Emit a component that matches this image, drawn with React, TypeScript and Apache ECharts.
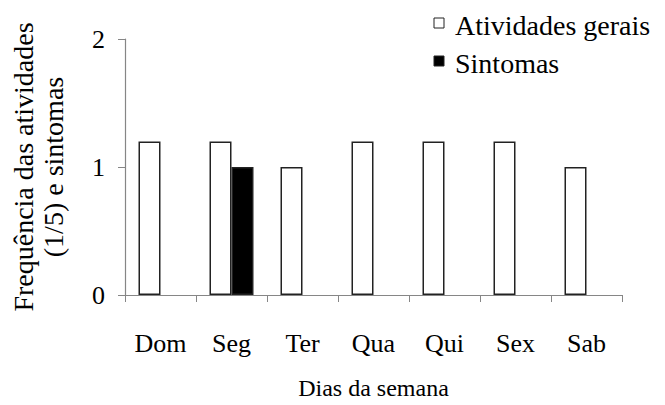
import React, { useEffect, useRef } from "react";
import * as echarts from "echarts";

const categories = ["Dom", "Seg", "Ter", "Qua", "Qui", "Sex", "Sab"];
const atividadesGerais = [1.2, 1.2, 1, 1.2, 1.2, 1.2, 1];
const sintomas = [0, 1, 0, 0, 0, 0, 0];
const seriesNames = ["Atividades gerais", "Sintomas"];
const yTicks = { min: 0, max: 2, interval: 1 };
const xTitle = "Dias da semana";
const yTitleLines = ["Frequência das atividades", "(1/5) e sintomas"];

const FONT = "Liberation Serif";
const BORDER = "#222222";
const AXIS = "#868686";

export default function App() {
  const ref = useRef<HTMLDivElement>(null);
  useEffect(() => {
    document.body.style.margin = "0";
    if (!ref.current) return;
    const chart = echarts.init(ref.current, undefined, { renderer: "svg" });
    const legendFill = ["#ffffff", "#000000"];
    const legendRowY = [23, 61];
    const legendGraphic: any[] = [];
    seriesNames.forEach((name, i) => {
      legendGraphic.push({
        type: "rect",
        shape: { x: 434, y: legendRowY[i] - 5, width: 10, height: 10 },
        style: { fill: legendFill[i], stroke: BORDER, lineWidth: 1 },
      });
      legendGraphic.push({
        type: "text",
        x: 455,
        y: legendRowY[i] + 2,
        style: {
          text: name,
          fontFamily: FONT,
          fontSize: 28,
          fill: "#000",
          align: "left",
          verticalAlign: "middle",
        },
      });
    });
    chart.setOption({
      animation: false,
      backgroundColor: "#ffffff",
      textStyle: { fontFamily: FONT },
      grid: { left: 123, right: 43, top: 39, bottom: 102 },
      graphic: legendGraphic,
      xAxis: {
        type: "category",
        data: categories,
        boundaryGap: true,
        axisLine: { lineStyle: { color: AXIS, width: 1.2 } },
        axisTick: { show: true, length: 7, lineStyle: { color: AXIS } },
        axisLabel: { fontSize: 26, fontFamily: FONT, color: "#000", margin: 35 },
        name: xTitle,
        nameLocation: "middle",
        nameGap: 81,
        nameTextStyle: { fontSize: 24, fontFamily: FONT, color: "#000" },
      },
      yAxis: {
        type: "value",
        min: yTicks.min,
        max: yTicks.max,
        interval: yTicks.interval,
        splitLine: { show: false },
        axisLine: { show: true, lineStyle: { color: AXIS, width: 1.2 } },
        axisTick: { show: true, length: 7, lineStyle: { color: AXIS } },
        axisLabel: { fontSize: 26, fontFamily: FONT, color: "#000", margin: 20 },
        name: yTitleLines.join("\n"),
        nameLocation: "middle",
        nameGap: 57,
        nameTextStyle: { fontSize: 28, fontFamily: FONT, color: "#000", lineHeight: 30 },
      },
      series: [
        {
          name: seriesNames[0],
          type: "bar",
          data: atividadesGerais.map((v) => (v === 0 ? "-" : v)),
          barWidth: 22,
          barGap: "0%",
          itemStyle: { color: "#ffffff", borderColor: BORDER, borderWidth: 1.5 },
        },
        {
          name: seriesNames[1],
          type: "bar",
          data: sintomas.map((v) => (v === 0 ? "-" : v)),
          barWidth: 22,
          barGap: "0%",
          itemStyle: { color: "#000000", borderColor: BORDER, borderWidth: 1.5 },
        },
      ],
    });
    return () => chart.dispose();
  }, []);
  return (
    <div>
      <style>{`svg text, svg tspan { font-family: "Liberation Serif", "Times New Roman", serif !important; }`}</style>
      <div ref={ref} style={{ width: 665, height: 405 }} />
    </div>
  );
}
